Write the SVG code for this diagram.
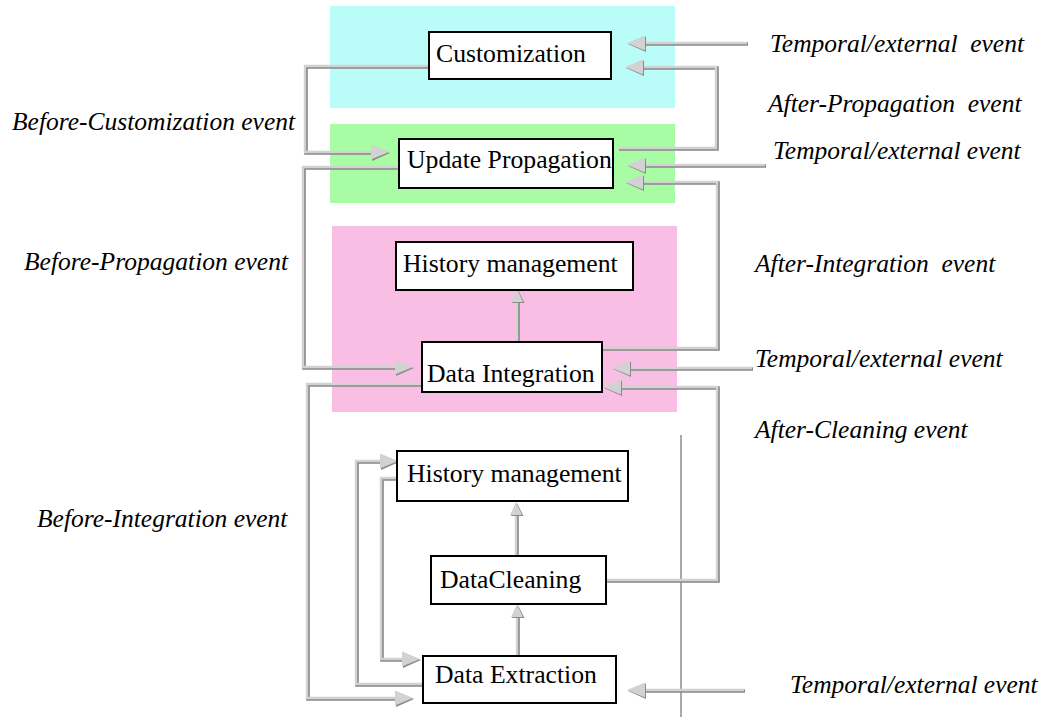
<svg xmlns="http://www.w3.org/2000/svg" xmlns:xlink="http://www.w3.org/1999/xlink" width="1048" height="719" viewBox="0 0 1048 719">
<style>
.box{fill:#ffffff;stroke:#000000;stroke-width:2}
.lbl{font-family:"Liberation Serif","Times New Roman",serif;font-size:25.7px;fill:#000000}
.ev{font-family:"Liberation Serif","Times New Roman",serif;font-size:25.5px;font-style:italic;fill:#000000;white-space:pre}
.sh{fill:none;stroke:#888888;stroke-width:3.6;stroke-linejoin:miter}
.pp{fill:none;stroke:#d2d2d2;stroke-width:2.4;stroke-linejoin:miter}
.ahs{fill:#8a8a8a}
.ahf{fill:#d2d2d2}
</style>
<defs>
<g id="ahL"><polygon class="ahs" points="1,1 19,-6.5 19,9"/><polygon class="ahf" points="0,0 18,-7.5 18,7.5"/></g>
<g id="ahR"><polygon class="ahs" points="1,1 -17,-6.5 -17,9"/><polygon class="ahf" points="0,0 -18,-7.5 -18,7.5"/></g>
<g id="ahU"><polygon class="ahs" points="1,1 -5,14 7.5,14"/><polygon class="ahf" points="0,0 -6,13 6,13"/></g>
</defs>
<rect x="330" y="6" width="345" height="102" fill="#bafcf8"/>
<rect x="330" y="124" width="345" height="79" fill="#a8fca4"/>
<rect x="332" y="226" width="345" height="186" fill="#f8bee4"/>
<line x1="681" y1="435" x2="681" y2="717" stroke="#a0a0a0" stroke-width="1.8"/>
<g id="connectors">
<g transform="translate(1,1)">
<path class="sh" d="M430,66 H305 V152 H374"/>
<path class="sh" d="M399,167 H303 V367 H398"/>
<path class="sh" d="M422,384 H307 V698 H398"/>
<path class="sh" d="M423,684 H356 V461 H383"/>
<path class="sh" d="M397,478 H381 V659 H405"/>
<path class="sh" d="M517,656 V617"/>
<path class="sh" d="M516,556 V514"/>
<path class="sh" d="M517,342 V301"/>
<path class="sh" d="M747,43 H641"/>
<path class="sh" d="M618,148 H716 V67 H639"/>
<path class="sh" d="M765,165 H641"/>
<path class="sh" d="M602,348 H717 V182 H639"/>
<path class="sh" d="M752,368 H626"/>
<path class="sh" d="M606,580 H717 V387 H617"/>
<path class="sh" d="M744,690 H641"/>
</g>
<path class="pp" d="M430,66 H305 V152 H374"/>
<path class="pp" d="M399,167 H303 V367 H398"/>
<path class="pp" d="M422,384 H307 V698 H398"/>
<path class="pp" d="M423,684 H356 V461 H383"/>
<path class="pp" d="M397,478 H381 V659 H405"/>
<path class="pp" d="M517,656 V617"/>
<path class="pp" d="M516,556 V514"/>
<path class="pp" d="M517,342 V301"/>
<path class="pp" d="M747,43 H641"/>
<path class="pp" d="M618,148 H716 V67 H639"/>
<path class="pp" d="M765,165 H641"/>
<path class="pp" d="M602,348 H717 V182 H639"/>
<path class="pp" d="M752,368 H626"/>
<path class="pp" d="M606,580 H717 V387 H617"/>
<path class="pp" d="M744,690 H641"/>
<use xlink:href="#ahR" x="389" y="152"/>
<use xlink:href="#ahR" x="413" y="367"/>
<use xlink:href="#ahR" x="413" y="698"/>
<use xlink:href="#ahR" x="398" y="461"/>
<use xlink:href="#ahR" x="420" y="659"/>
<use xlink:href="#ahU" x="517" y="604"/>
<use xlink:href="#ahU" x="516" y="502"/>
<use xlink:href="#ahU" x="517" y="289"/>
<use xlink:href="#ahL" x="627" y="43"/>
<use xlink:href="#ahL" x="625" y="67"/>
<use xlink:href="#ahL" x="627" y="165"/>
<use xlink:href="#ahL" x="625" y="182"/>
<use xlink:href="#ahL" x="612" y="368"/>
<use xlink:href="#ahL" x="603" y="387"/>
<use xlink:href="#ahL" x="627" y="690"/>
</g>
<g id="customization"><rect class="box" x="429" y="32" width="182" height="47"/><text class="lbl" x="436" y="62">Customization</text></g>
<g id="update-propagation"><rect class="box" x="399" y="139" width="214" height="49"/><text class="lbl" x="407" y="168">Update Propagation</text></g>
<g id="history-management-1"><rect class="box" x="396" y="242" width="237" height="48"/><text class="lbl" x="403" y="272">History management</text></g>
<g id="data-integration"><rect class="box" x="422" y="342" width="180" height="50"/><text class="lbl" x="427" y="382">Data Integration</text></g>
<g id="history-management-2"><rect class="box" x="397" y="451" width="231" height="50"/><text class="lbl" x="407" y="482">History management</text></g>
<g id="data-cleaning"><rect class="box" x="431" y="556" width="175" height="48"/><text class="lbl" x="440" y="588">DataCleaning</text></g>
<g id="data-extraction"><rect class="box" x="423" y="656" width="193" height="47"/><text class="lbl" x="435" y="683">Data Extraction</text></g>
<g id="labels">
<text class="ev" x="770" y="52">Temporal/external  event</text>
<text class="ev" x="768" y="112">After-Propagation  event</text>
<text class="ev" x="773" y="159">Temporal/external event</text>
<text class="ev" x="755" y="272">After-Integration  event</text>
<text class="ev" x="755" y="367">Temporal/external event</text>
<text class="ev" x="755" y="438">After-Cleaning event</text>
<text class="ev" x="790" y="693">Temporal/external event</text>
<text class="ev" x="12" y="130">Before-Customization event</text>
<text class="ev" x="24" y="270" textLength="264" lengthAdjust="spacingAndGlyphs">Before-Propagation event</text>
<text class="ev" x="37" y="527">Before-Integration event</text>
</g>
</svg>
